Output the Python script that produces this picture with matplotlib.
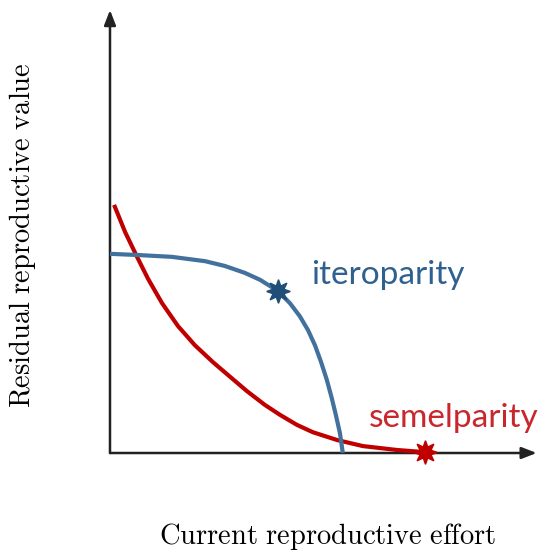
import matplotlib
matplotlib.use("Agg")
import matplotlib.pyplot as plt

plt.rcParams['mathtext.fontset'] = 'cm'

# curves (effort, residual value), both axes scaled 0..1
itero_x = [0.0, 0.073, 0.151, 0.232, 0.280, 0.329, 0.366, 0.410, 0.439, 0.463,
           0.483, 0.500, 0.515, 0.529, 0.541, 0.551, 0.561, 0.568]
itero_y = [0.460, 0.457, 0.453, 0.443, 0.432, 0.416, 0.400, 0.374, 0.346, 0.316,
           0.284, 0.249, 0.210, 0.169, 0.127, 0.088, 0.046, 0.0]
itero_opt = (0.410, 0.374)

semel_x = [0.010, 0.037, 0.066, 0.093, 0.127, 0.166, 0.207, 0.251, 0.293, 0.334,
           0.378, 0.415, 0.456, 0.495, 0.554, 0.617, 0.700, 0.768]
semel_y = [0.573, 0.510, 0.453, 0.402, 0.346, 0.293, 0.249, 0.210, 0.176, 0.143,
           0.111, 0.088, 0.065, 0.048, 0.030, 0.016, 0.007, 0.002]
semel_opt = (0.768, 0.002)

blue = '#41719c'
blue_dark = '#1f4e79'
red = '#c00000'

fig = plt.figure(figsize=(5.4, 5.54), dpi=100)
ax = fig.add_axes([0.2037, 0.1823, 0.759, 0.7816])
ax.set_xlim(0, 1)
ax.set_ylim(0, 1)
ax.axis('off')

ax.plot(semel_x, semel_y, color=red, lw=3, solid_capstyle='butt', solid_joinstyle='round',
        clip_on=False, zorder=3)
ax.plot(itero_x, itero_y, color=blue, lw=3, solid_capstyle='butt', solid_joinstyle='round',
        clip_on=False, zorder=3)
ax.plot(*itero_opt, marker=(8, 1, 0), color=blue_dark, ms=17, clip_on=False, zorder=5)
ax.plot(*semel_opt, marker=(8, 1, 0), color=red, ms=17, clip_on=False, zorder=5)

# axes with arrow heads
arrow = dict(arrowstyle='-|>,head_length=0.9,head_width=0.35', color='#222222', lw=1.8,
             shrinkA=0, shrinkB=0)
ax.annotate('', xy=(1.041, 0), xytext=(0, 0), xycoords='axes fraction',
            arrowprops=arrow, zorder=2, annotation_clip=False)
ax.annotate('', xy=(0, 1.023), xytext=(0, 0), xycoords='axes fraction',
            arrowprops=arrow, zorder=2, annotation_clip=False)

ax.text(0.49, 0.41, 'iteroparity', color='#2e6090', fontsize=24, family='Lato',
        ha='left', va='center', transform=ax.transAxes)
ax.text(0.632, 0.08, 'semelparity', color='#c8282d', fontsize=24, family='Lato',
        ha='left', va='center', transform=ax.transAxes)

fig.text(0.606, 0.031, r'$\mathrm{Current\ reproductive\ effort}$', fontsize=20.5,
         ha='center', va='center')
fig.text(0.041, 0.576, r'$\mathrm{Residual\ reproductive\ value}$', fontsize=20.5,
         ha='center', va='center', rotation=90)

fig.savefig('out.png', dpi=100)
